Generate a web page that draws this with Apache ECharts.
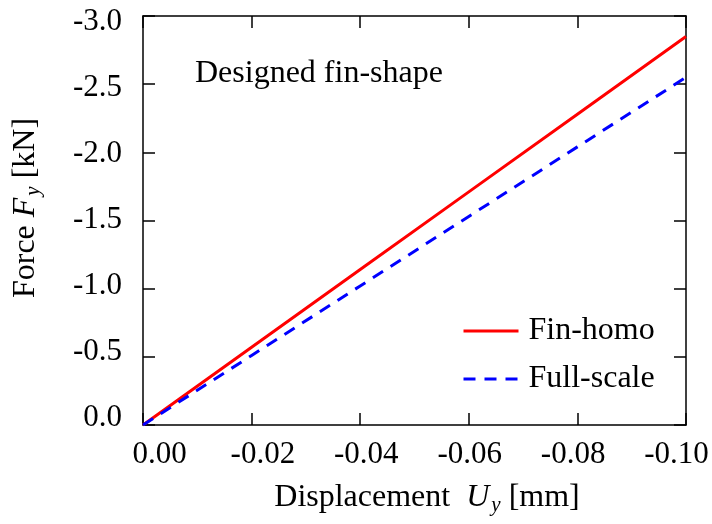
<!DOCTYPE html>
<html>
<head>
<meta charset="utf-8">
<script src="https://cdn.jsdelivr.net/npm/echarts@6/dist/echarts.min.js"></script>
<style>html,body{margin:0;padding:0;background:#fff;}#c{width:712px;height:524px;}</style>
</head>
<body>
<div id="c"></div>
<script>
// Data
const displacement = [0, -0.02, -0.04, -0.06, -0.08, -0.10];
const finHomo = [0, -0.57, -1.14, -1.71, -2.28, -2.85];
const fullScale = [0, -0.51, -1.02, -1.53, -2.04, -2.55];
const xTickValues = [0, -0.02, -0.04, -0.06, -0.08, -0.10];
const yTickValues = [0, -0.5, -1.0, -1.5, -2.0, -2.5, -3.0];
const seriesNames = ['Fin-homo', 'Full-scale'];
const annotation = 'Designed fin-shape';

const FONT = "'Liberation Serif', 'Times New Roman', serif";
const FS = 31;
const FT = 32;
const pairs = (xs, ys) => xs.map((x, i) => [x, ys[i]]);

const chart = echarts.init(document.getElementById('c'), null, {renderer: 'canvas'});
const frameAxis = {
  type: 'value',
  axisLine: {show: true, onZero: false, lineStyle: {color: '#000', width: 1.5}},
  axisTick: {show: true, inside: true, length: 12, lineStyle: {color: '#000', width: 1.5}},
  axisLabel: {show: false},
  splitLine: {show: false}
};
const option = {
  backgroundColor: '#fff',
  animation: false,
  grid: {left: 143, right: 26, top: 16, bottom: 99, containLabel: false},
  xAxis: [
    Object.assign({}, frameAxis, {position: 'bottom', min: -0.1, max: 0, interval: 0.02, inverse: true}),
    Object.assign({}, frameAxis, {position: 'top', min: -0.1, max: 0, interval: 0.02, inverse: true}),
    {
      type: 'value', position: 'bottom', min: -0.10184, max: 0.003192, inverse: true,
      axisLine: {show: false, onZero: false}, axisTick: {show: false}, splitLine: {show: false},
      axisLabel: {show: true, customValues: xTickValues, margin: 14, color: '#000',
        fontFamily: FONT, fontSize: FS, formatter: v => v.toFixed(2)}
    }
  ],
  yAxis: [
    Object.assign({}, frameAxis, {position: 'left', min: -3, max: 0, interval: 0.5, inverse: true}),
    Object.assign({}, frameAxis, {position: 'right', min: -3, max: 0, interval: 0.5, inverse: true}),
    {
      type: 'value', position: 'left', min: -3.0417, max: 0.0568, inverse: true,
      axisLine: {show: false, onZero: false}, axisTick: {show: false}, splitLine: {show: false},
      axisLabel: {show: true, customValues: yTickValues, margin: 21, color: '#000',
        fontFamily: FONT, fontSize: FS, formatter: v => v.toFixed(1)}
    }
  ],
  legend: {
    orient: 'vertical', left: 457, top: 310, itemWidth: 55, itemHeight: 14, itemGap: 16,
    itemStyle: {opacity: 0},
    lineStyle: {width: 3},
    textStyle: {fontFamily: FONT, fontSize: FT, color: '#000', padding: [0, 0, 0, 5]},
    data: seriesNames
  },
  series: [
    {name: seriesNames[0], type: 'line', xAxisIndex: 0, yAxisIndex: 0, showSymbol: false, symbol: 'none',
     data: pairs(displacement, finHomo), lineStyle: {color: '#ff0000', width: 3}, itemStyle: {color: '#ff0000'}},
    {name: seriesNames[1], type: 'line', xAxisIndex: 0, yAxisIndex: 0, showSymbol: false, symbol: 'none',
     data: pairs(displacement, fullScale), lineStyle: {color: '#0000ff', width: 3, type: [12, 9]}, itemStyle: {color: '#0000ff'}}
  ],
  graphic: [
    {type: 'text', left: 195, top: 58, style: {text: annotation, font: FT + 'px ' + FONT, fill: '#000'}},
    {type: 'text', x: 427, y: 498, style: {
      text: 'Displacement  {i|U}{s|y} [mm]', fill: '#000', align: 'center', verticalAlign: 'middle',
      font: FT + 'px ' + FONT,
      rich: {i: {fontFamily: FONT, fontSize: FT, fontStyle: 'italic'},
             s: {fontFamily: FONT, fontSize: 21, fontStyle: 'italic', padding: [14, 0, 0, 2]}}
    }},
    {type: 'text', x: 26, y: 208, rotation: Math.PI / 2, style: {
      text: 'Force {i|F}{s|y} [kN]', fill: '#000', align: 'center', verticalAlign: 'middle',
      font: FT + 'px ' + FONT,
      rich: {i: {fontFamily: FONT, fontSize: FT, fontStyle: 'italic'},
             s: {fontFamily: FONT, fontSize: 21, fontStyle: 'italic', padding: [14, 0, 0, 2]}}
    }}
  ]
};
chart.setOption(option);
</script>
</body>
</html>
